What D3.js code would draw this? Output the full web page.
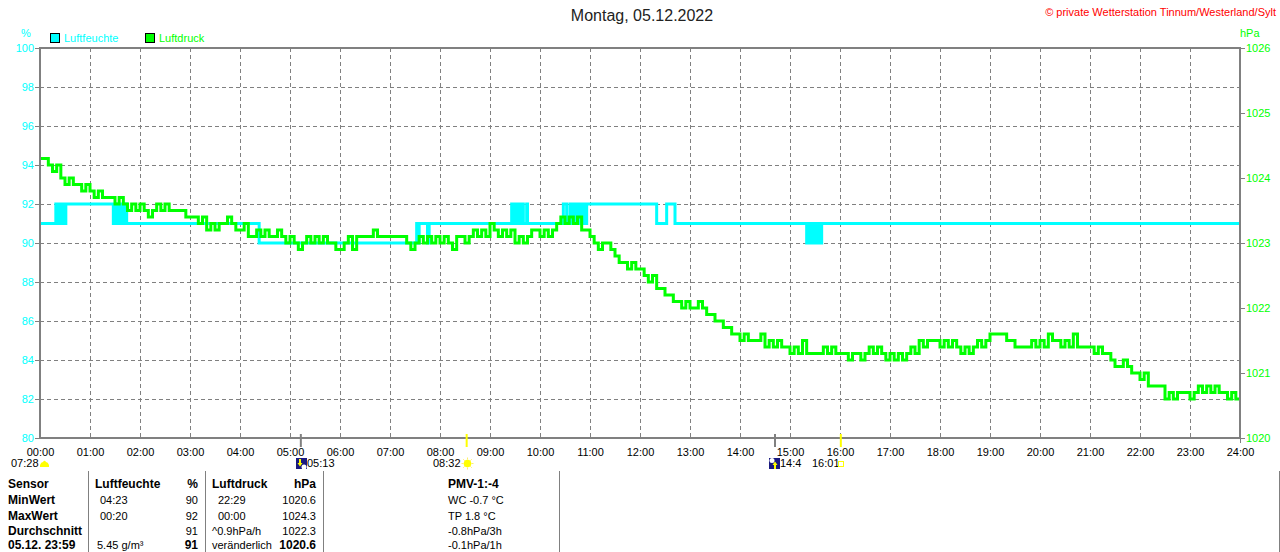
<!DOCTYPE html>
<html><head><meta charset="utf-8">
<script src="https://cdn.jsdelivr.net/npm/d3@7/dist/d3.min.js"></script>
<style>
html,body{margin:0;padding:0;background:#fff;}
svg{display:block;font-family:"Liberation Sans",Arial,sans-serif;}
</style></head>
<body>
<svg id="c" width="1280" height="552"></svg>
<script>
// ---------------- DATA ----------------
const titleText = "Montag, 05.12.2022";
const copyrightText = "© private Wetterstation Tinnum/Westerland/Sylt";
const seriesNames = ["Luftfeuchte", "Luftdruck"];
const xTickLabels = ["00:00","01:00","02:00","03:00","04:00","05:00","06:00","07:00","08:00","09:00","10:00","11:00","12:00",
  "13:00","14:00","15:00","16:00","17:00","18:00","19:00","20:00","21:00","22:00","23:00","24:00"];
const humTicks = [80,82,84,86,88,90,92,94,96,98,100];
const pressTicks = [1020,1021,1022,1023,1024,1025,1026];

// Luftdruck (hPa), one value every 5 minutes, 00:00 .. 24:00
const pressureHPa = [
 1024.3,1024.3,1024.2,1024.1,1024.2,1024.0,1023.9,1024.0,1023.9,1023.9,1023.8,1023.9,
 1023.8,1023.7,1023.8,1023.7,1023.7,1023.7,1023.6,1023.7,1023.6,1023.5,1023.6,1023.5,
 1023.6,1023.5,1023.4,1023.5,1023.6,1023.5,1023.6,1023.5,1023.5,1023.5,1023.5,1023.4,
 1023.4,1023.4,1023.3,1023.4,1023.2,1023.3,1023.2,1023.3,1023.3,1023.4,1023.3,1023.2,
 1023.2,1023.3,1023.1,1023.1,1023.2,1023.1,1023.2,1023.1,1023.1,1023.2,1023.1,1023.0,
 1023.1,1023.0,1022.9,1023.0,1023.1,1023.0,1023.1,1023.0,1023.1,1023.0,1023.0,1022.9,
 1022.9,1023.0,1023.1,1022.9,1023.1,1023.1,1023.1,1023.1,1023.2,1023.1,1023.1,1023.1,
 1023.1,1023.1,1023.1,1023.1,1023.0,1022.9,1023.0,1023.1,1023.0,1023.1,1023.0,1023.1,
 1023.0,1023.1,1023.0,1022.9,1023.1,1023.1,1023.0,1023.1,1023.2,1023.1,1023.2,1023.1,
 1023.3,1023.2,1023.1,1023.2,1023.1,1023.2,1023.0,1023.1,1023.0,1023.1,1023.2,1023.2,
 1023.1,1023.2,1023.1,1023.2,1023.3,1023.4,1023.3,1023.4,1023.3,1023.4,1023.2,1023.2,
 1023.1,1023.0,1022.9,1023.0,1023.0,1022.9,1022.8,1022.7,1022.7,1022.6,1022.7,1022.6,
 1022.6,1022.5,1022.4,1022.5,1022.3,1022.3,1022.2,1022.2,1022.1,1022.1,1022.0,1022.1,
 1022.0,1022.0,1022.1,1022.0,1021.9,1021.9,1021.8,1021.8,1021.7,1021.7,1021.6,1021.6,
 1021.5,1021.6,1021.5,1021.5,1021.5,1021.6,1021.4,1021.5,1021.4,1021.5,1021.4,1021.4,
 1021.3,1021.4,1021.3,1021.5,1021.3,1021.3,1021.3,1021.3,1021.4,1021.3,1021.4,1021.3,
 1021.3,1021.3,1021.2,1021.3,1021.3,1021.2,1021.3,1021.4,1021.3,1021.4,1021.3,1021.2,
 1021.3,1021.2,1021.3,1021.2,1021.3,1021.4,1021.3,1021.5,1021.4,1021.5,1021.5,1021.5,
 1021.4,1021.5,1021.4,1021.5,1021.4,1021.3,1021.4,1021.3,1021.4,1021.5,1021.4,1021.5,
 1021.6,1021.6,1021.6,1021.6,1021.5,1021.5,1021.4,1021.4,1021.4,1021.4,1021.5,1021.4,
 1021.5,1021.4,1021.6,1021.5,1021.5,1021.4,1021.5,1021.4,1021.6,1021.4,1021.4,1021.4,
 1021.4,1021.3,1021.4,1021.3,1021.3,1021.2,1021.1,1021.1,1021.2,1021.1,1021.0,1021.0,
 1020.9,1021.0,1020.8,1020.8,1020.8,1020.8,1020.6,1020.7,1020.6,1020.7,1020.7,1020.7,
 1020.6,1020.7,1020.8,1020.7,1020.8,1020.7,1020.8,1020.7,1020.7,1020.6,1020.7,1020.6,
 1020.6
];
const pressureStepMin = 5;

// Luftfeuchte (%): step changes [minute of day, value]
const humidityMinute = [0,19,21,23,25,27,29,31,
  88,90,92,94,96,98,100,103,104,
  263,
  452,454,455,465,467,
  566,568,570,572,574,576,578,580,584,585,
  628,632,636,638,640,642,644,646,648,650,652,654,656,
  740,752,762,
  920,922,924,926,928,930,932,934,936,938,940,1440];
const humidityValue = [91,92,91,92,91,92,91,92,
  91,92,91,92,91,92,91,92,91,
  90,
  91,90,91,90,91,
  92,91,92,91,92,91,92,91,92,91,
  92,91,92,91,92,91,92,91,92,91,92,91,92,
  91,92,91,
  90,91,90,91,90,91,90,91,90,91,91,91];

// Sun / moon events (minute of day)
const eventLabels = ["07:28","05:13","08:32","14:4","16:01"];
const eventMinutes = [null, 313, 512, 882, 961];

// Table
const tableHeader = ["Sensor","Luftfeuchte","%","Luftdruck","hPa","PMV-1:-4"];
const tableRowNames = ["MinWert","MaxWert","Durchschnitt","05.12. 23:59"];
const humTimes = ["04:23","00:20","","5.45 g/m³"];
const humVals = ["90","92","91","91"];
const pressTimes = ["22:29","00:00","^0.9hPa/h","veränderlich"];
const pressVals = ["1020.6","1024.3","1022.3","1020.6"];
const extraVals = ["WC -0.7 °C","TP 1.8 °C","-0.8hPa/3h","-0.1hPa/1h"];

// ---------------- DRAW ----------------
const svg = d3.select("#c");
const CYAN = "#00ffff", GREEN = "#00ff00", GRAY = "#808080";
const L = 40, R = 1240, T = 48, B = 438;

const x = d3.scaleLinear().domain([0, 1440]).range([L, R]);
const yH = d3.scaleLinear().domain([80, 100]).range([B, T]);
const yP = d3.scaleLinear().domain([1020, 1026]).range([B, T]);

// title & copyright
svg.append("text").attr("x", 642).attr("y", 21).attr("text-anchor", "middle")
  .attr("font-size", 16).attr("fill", "#222").text(titleText);
svg.append("text").attr("x", 1276).attr("y", 16).attr("text-anchor", "end")
  .attr("font-size", 11).attr("fill", "#ff0000").text(copyrightText);

// unit labels
svg.append("text").attr("x", 26).attr("y", 37).attr("text-anchor", "middle")
  .attr("font-size", 11).attr("fill", CYAN).text("%");
svg.append("text").attr("x", 1240).attr("y", 37).attr("font-size", 11).attr("fill", GREEN).text("hPa");

// legend
const legColors = [CYAN, GREEN];
const legX = [50, 145];
seriesNames.forEach((n, i) => {
  svg.append("rect").attr("x", legX[i] + 0.5).attr("y", 33.5).attr("width", 9).attr("height", 9)
    .attr("fill", legColors[i]).attr("stroke", "#000").attr("stroke-width", 1);
  svg.append("text").attr("x", legX[i] + 14).attr("y", 42).attr("font-size", 11)
    .attr("fill", legColors[i]).text(n);
});

// grid
const grid = svg.append("g").attr("stroke", GRAY).attr("stroke-width", 1).attr("stroke-dasharray", "4,3");
humTicks.slice(1, -1).forEach(v => {
  grid.append("line").attr("x1", L).attr("x2", R).attr("y1", Math.round(yH(v)) + 0.5).attr("y2", Math.round(yH(v)) + 0.5);
});
d3.range(1, 24).forEach(h => {
  grid.append("line").attr("x1", x(h * 60) + 0.5).attr("x2", x(h * 60) + 0.5).attr("y1", T).attr("y2", B);
});

// axes
const axL = svg.append("g").attr("transform", `translate(${L},0)`)
  .call(d3.axisLeft(yH).tickValues(humTicks).tickSize(5).tickPadding(1).tickFormat(d3.format("d")));
axL.select(".domain").remove();
axL.selectAll("line").attr("stroke", GRAY);
axL.selectAll("text").attr("fill", CYAN).attr("font-size", 11).attr("font-family", "Liberation Sans, Arial, sans-serif");

const axR = svg.append("g").attr("transform", `translate(${R},0)`)
  .call(d3.axisRight(yP).tickValues(pressTicks).tickSize(5).tickPadding(1).tickFormat(d3.format("d")));
axR.select(".domain").remove();
axR.selectAll("line").attr("stroke", GRAY);
axR.selectAll("text").attr("fill", GREEN).attr("font-size", 11).attr("font-family", "Liberation Sans, Arial, sans-serif");

const axB = svg.append("g").attr("transform", `translate(0,${B})`)
  .call(d3.axisBottom(x).tickValues(d3.range(0, 1441, 60)).tickSize(0).tickPadding(10)
    .tickFormat((d, i) => xTickLabels[i]));
axB.select(".domain").remove();
axB.selectAll("text").attr("fill", "#000").attr("font-size", 11).attr("font-family", "Liberation Sans, Arial, sans-serif");

// data lines
const humData = humidityMinute.map((m, i) => [m, humidityValue[i]]);
const pressData = pressureHPa.map((v, i) => [i * pressureStepMin, v]);

svg.append("path").datum(humData)
  .attr("fill", "none").attr("stroke", CYAN).attr("stroke-width", 3)
  .attr("d", d3.line().x(d => x(d[0])).y(d => yH(d[1])).curve(d3.curveStepAfter));
svg.append("path").datum(pressData)
  .attr("fill", "none").attr("stroke", GREEN).attr("stroke-width", 3)
  .attr("d", d3.line().x(d => x(d[0])).y(d => yP(d[1])).curve(d3.curveStepAfter));

// frame
const fr = svg.append("g").attr("stroke", GRAY).attr("stroke-width", 2).attr("fill", "none");
fr.append("line").attr("x1", L).attr("x2", L).attr("y1", T - 1).attr("y2", B + 1);
fr.append("line").attr("x1", R).attr("x2", R).attr("y1", T - 1).attr("y2", B + 1);
fr.append("line").attr("x1", L - 1).attr("x2", R + 1).attr("y1", T).attr("y2", T);
fr.append("line").attr("x1", L - 1).attr("x2", R + 1).attr("y1", B).attr("y2", B);
svg.append("line").attr("x1", R + 0.5).attr("x2", R + 0.5).attr("y1", B).attr("y2", B + 5).attr("stroke", GRAY);

// event markers on x axis
const markColors = [null, GRAY, "#ffff00", GRAY, "#ffff00"];
eventMinutes.forEach((m, i) => {
  if (m === null) return;
  svg.append("line").attr("x1", x(m)).attr("x2", x(m)).attr("y1", B - 4).attr("y2", B + 9)
    .attr("stroke", markColors[i]).attr("stroke-width", 2);
});

// event labels and icons
const ev = svg.append("g").attr("font-size", 11).attr("fill", "#000");
ev.append("text").attr("x", 11).attr("y", 467).text(eventLabels[0]);
svg.append("path").attr("d", "M40,467 L40,465 Q41,462 43,462 Q44.5,459.5 46,462 Q48,462 49,465 L49,467 Z").attr("fill", "#ffff00");

// moonset icon
const ms = svg.append("g").attr("transform", "translate(296,458)");
ms.append("rect").attr("width", 11).attr("height", 11).attr("fill", "#1a1a80");
ms.append("circle").attr("cx", 8).attr("cy", 9).attr("r", 2.5).attr("fill", "#fff");
ms.append("path").attr("d", "M3,1 L3,5 L1.5,5 L4,8.5 L6.5,5 L5,5 L5,1 Z").attr("fill", "#ffff00");
ev.append("text").attr("x", 307).attr("y", 467).text(eventLabels[1]);

// sunrise
ev.append("text").attr("x", 433).attr("y", 467).text(eventLabels[2]);
const sun = svg.append("g").attr("transform", "translate(467.5,463.5)");
d3.range(0, 360, 45).forEach(a => {
  const r = a * Math.PI / 180;
  sun.append("line").attr("x1", Math.cos(r) * 4).attr("y1", Math.sin(r) * 4)
    .attr("x2", Math.cos(r) * 6).attr("y2", Math.sin(r) * 6).attr("stroke", "#ffee66").attr("stroke-width", 1);
});
sun.append("circle").attr("r", 3.8).attr("fill", "#ffff00");

// moonrise icon
const mr = svg.append("g").attr("transform", "translate(769,458)");
mr.append("rect").attr("width", 11).attr("height", 11).attr("fill", "#1a1a80");
mr.append("circle").attr("cx", 3).attr("cy", 2.5).attr("r", 2.5).attr("fill", "#fff");
mr.append("path").attr("d", "M5,11 L5,7 L3.5,7 L6,3.5 L8.5,7 L7,7 L7,11 Z").attr("fill", "#ffff00");
ev.append("text").attr("x", 780).attr("y", 467).text(eventLabels[3]);
ev.append("text").attr("x", 812).attr("y", 467).text(eventLabels[4]);
svg.append("rect").attr("x", 838.5).attr("y", 461.5).attr("width", 5).attr("height", 5)
  .attr("fill", "none").attr("stroke", "#ffff00").attr("stroke-width", 1);

// table separators
[88, 205, 323, 559, 1279].forEach(sx => {
  svg.append("line").attr("x1", sx + 0.5).attr("x2", sx + 0.5).attr("y1", 471).attr("y2", 552)
    .attr("stroke", GRAY).attr("stroke-width", 1);
});

// table text
const tb = svg.append("g").attr("fill", "#000");
const rowY = [488, 504, 520, 535, 549];
function cell(txt, xx, yy, anchor, bold) {
  tb.append("text").attr("x", xx).attr("y", yy).attr("text-anchor", anchor || "start")
    .attr("font-size", bold ? 12 : 11).attr("font-weight", bold ? "bold" : "normal").text(txt);
}
cell(tableHeader[0], 8, rowY[0], "start", true);
cell(tableHeader[1], 95, rowY[0], "start", true);
cell(tableHeader[2], 198, rowY[0], "end", true);
cell(tableHeader[3], 212, rowY[0], "start", true);
cell(tableHeader[4], 316, rowY[0], "end", true);
cell(tableHeader[5], 448, rowY[0], "start", true);
tableRowNames.forEach((n, i) => {
  const yy = rowY[i + 1];
  const last = i === tableRowNames.length - 1;
  cell(n, 8, yy, "start", true);
  cell(humTimes[i], last ? 97 : 100, yy, "start", false);
  cell(humVals[i], 198, yy, "end", last);
  cell(pressTimes[i], i >= 2 ? 212 : 218, yy, "start", false);
  cell(pressVals[i], 316, yy, "end", last);
  cell(extraVals[i], 448, yy, "start", false);
});
</script>
</body></html>
